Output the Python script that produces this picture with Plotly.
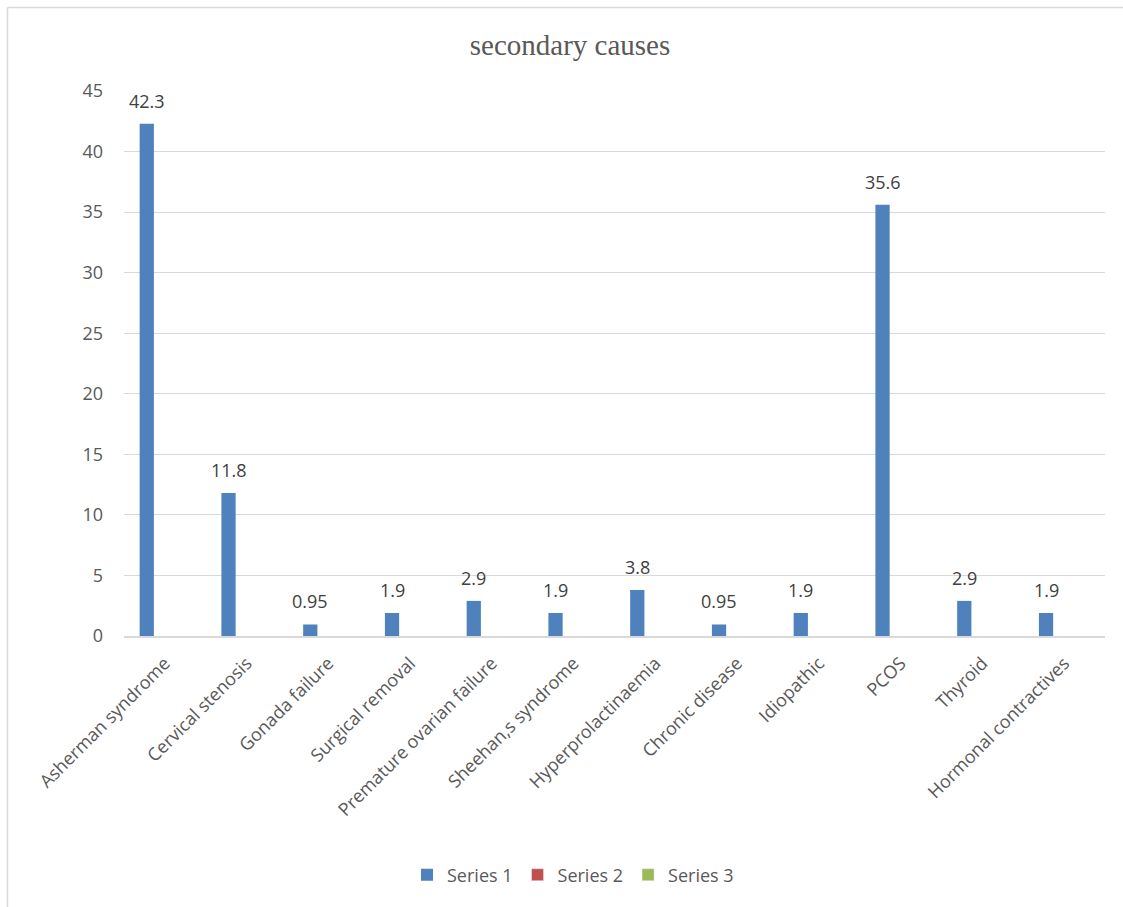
import plotly.graph_objects as go

categories = ["Asherman syndrome", "Cervical stenosis", "Gonada failure", "Surgical removal",
              "Premature ovarian failure", "Sheehan,s syndrome", "Hyperprolactinaemia",
              "Chronic disease", "Idiopathic", "PCOS", "Thyroid", "Hormonal contractives"]
series1 = [42.3, 11.8, 0.95, 1.9, 2.9, 1.9, 3.8, 0.95, 1.9, 35.6, 2.9, 1.9]
series2 = [None] * 12
series3 = [None] * 12
series_names = ["Series 1", "Series 2", "Series 3"]
colors = ["#4F81BD", "#C0504D", "#9BBB59"]
y_ticks = [0, 5, 10, 15, 20, 25, 30, 35, 40, 45]

FONT = "Open Sans"
GREY = "#595959"

W, H = 1123, 907
L, R, T, B = 124, 18, 91, 271
pw = W - L - R
ph = H - T - B
BARGAP, BARGROUPGAP = 0.336, 0.212
n_series = 3
slot_px = (1 - BARGAP) * (pw / len(categories)) / n_series

def px_x(p):
    return (p - L) / pw

def px_y(p):
    return (H - B - p) / ph

fig = go.Figure()
fig.add_trace(go.Bar(x=categories, y=series1, name=series_names[0], marker_color=colors[0],
                     marker_line_width=0))
fig.add_trace(go.Bar(x=categories, y=series2, name=series_names[1], marker_color=colors[1]))
fig.add_trace(go.Bar(x=categories, y=series3, name=series_names[2], marker_color=colors[2]))

annotations = [
    dict(x=c, y=v, xref="x", yref="y", text=f"{v:g}", showarrow=False,
         xanchor="center", yanchor="bottom", xshift=-slot_px, yshift=9,
         font=dict(family=FONT, size=18, color="#404040"))
    for c, v in zip(categories, series1)
]

fig.update_layout(
    width=W, height=H,
    margin=dict(l=L, r=R, t=T, b=B),
    paper_bgcolor="white", plot_bgcolor="white",
    barmode="group", bargap=BARGAP, bargroupgap=BARGROUPGAP,
    title=dict(text="secondary causes", x=570 / W, xref="container",
               y=1 - 45 / H, yref="container", xanchor="center", yanchor="middle",
               font=dict(family="Liberation Serif", size=29, color=GREY)),
    font=dict(family=FONT, size=18, color=GREY),
    xaxis=dict(tickangle=-45, showgrid=False, showline=True, linecolor="#D9D9D9", linewidth=1.5,
               ticks="", tickfont=dict(family=FONT, size=18, color=GREY), ticklabelstandoff=8),
    yaxis=dict(range=[0, 45], tickvals=y_ticks, showgrid=True, gridcolor="#D9D9D9", gridwidth=1,
               zeroline=False, showline=False, ticks="", ticklabelstandoff=20,
               tickfont=dict(family=FONT, size=18, color=GREY)),
    legend=dict(orientation="h", xref="container", yref="container", x=573 / W, y=1 - 875 / H,
                xanchor="center", yanchor="middle", font=dict(family=FONT, size=18, color=GREY),
                itemwidth=30, tracegroupgap=0),
    showlegend=True,
    annotations=annotations,
    shapes=[
        dict(type="line", xref="paper", yref="paper", x0=px_x(7.5), x1=px_x(7.5), y0=px_y(907), y1=px_y(7.5),
             line=dict(color="#D9D9D9", width=1.5)),
        dict(type="line", xref="paper", yref="paper", x0=px_x(7.5), x1=px_x(1123), y0=px_y(7.5), y1=px_y(7.5),
             line=dict(color="#D9D9D9", width=1.5)),
    ],
)

fig.write_html("out.html")
